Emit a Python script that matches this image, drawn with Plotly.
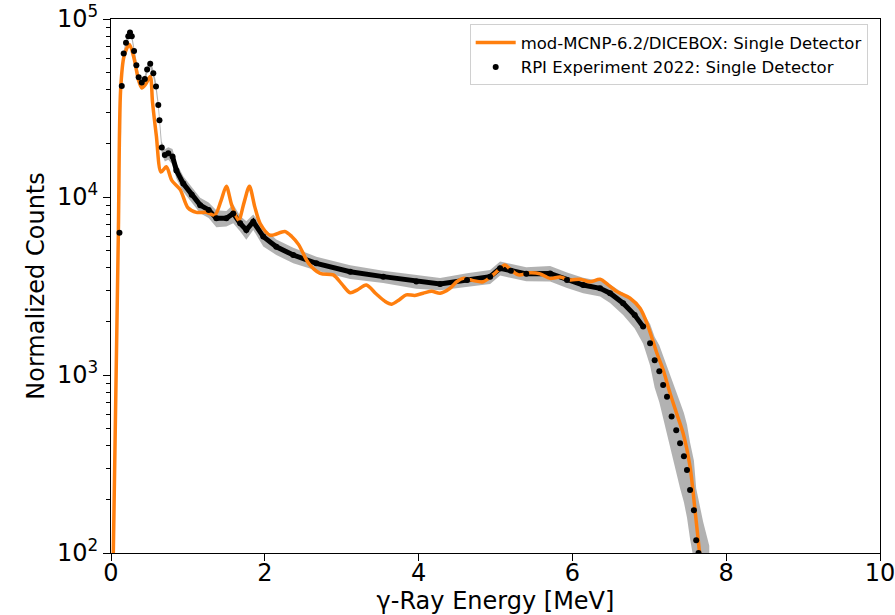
import plotly.graph_objects as go

# --- simulation (mod-MCNP-6.2/DICEBOX) ---
sim_E = [0.03, 0.095, 0.125, 0.17, 0.24, 0.30, 0.36, 0.40, 0.45, 0.51, 0.54, 0.59, 0.65,
         0.72, 0.79, 0.90, 1.00, 1.11, 1.24, 1.35, 1.43, 1.50, 1.57, 1.66, 1.73, 1.80, 1.87,
         1.94, 2.07, 2.26, 2.35, 2.44, 2.57, 2.72, 2.89, 3.00, 3.11, 3.20, 3.32, 3.45, 3.56,
         3.65, 3.75, 3.84, 3.95, 4.06, 4.17, 4.28, 4.40, 4.50, 4.58, 4.70, 4.84, 4.95, 5.04,
         5.12, 5.20, 5.30, 5.45, 5.58, 5.71, 5.84, 5.97, 6.10, 6.23, 6.36, 6.47, 6.58, 6.75,
         6.88, 6.97, 7.05, 7.10, 7.18, 7.27, 7.36, 7.44, 7.53, 7.59, 7.65, 7.67]
sim_val = [100, 6000, 40000, 62000, 72000, 60000, 45000, 41000, 43000, 47500, 34000, 22000, 13800,
           14800, 12400, 11000, 8700, 8200, 8200, 7900, 9500, 11500, 9000, 7400, 9300, 11500, 8800,
           7100, 6100, 6400, 6000, 5400, 4240, 3720, 3650, 3250, 2900, 3000, 3200, 2850, 2600,
           2500, 2650, 2820, 2800, 2880, 2950, 2880, 3050, 3350, 3490, 3400, 3340, 3600, 3890,
           4150, 3900, 3650, 3750, 3700, 3490, 3550, 3420, 3450, 3340, 3450, 3200, 2940, 2700,
           2370, 1950, 1540, 1320, 1070, 790, 600, 470, 305, 182, 104, 90]

# --- experiment (RPI 2022) ---
exp_E = [0.11, 0.14, 0.165, 0.195, 0.225, 0.247, 0.27, 0.30, 0.33, 0.36, 0.40, 0.44, 0.47,
         0.51, 0.55, 0.585, 0.615, 0.63, 0.66, 0.70, 0.745, 0.80, 0.85, 0.94, 1.05, 1.16, 1.27,
         1.37, 1.50, 1.59, 1.68, 1.76, 1.85, 1.98, 2.15, 2.37, 2.67, 3.11, 3.54, 3.97, 4.28,
         4.63, 4.93, 5.06, 5.20, 5.40, 5.71, 5.93, 6.14, 6.36, 6.49, 6.66, 6.81, 6.92, 7.01,
         7.07, 7.13, 7.18, 7.23, 7.29, 7.35, 7.40, 7.45, 7.49, 7.53, 7.58, 7.61, 7.64, 7.70, 7.78]
exp_val = [6300, 42000, 64000, 73600, 80000, 84000, 80000, 66000, 55000, 47000, 44000, 46000, 52000,
           56000, 49600, 41800, 32900, 27000, 19000, 17200, 17600, 16900, 14100, 11900, 10300, 9000, 8460,
           7590, 7590, 8090, 7110, 6530, 7260, 5990, 5250, 4720, 4240, 3800, 3570, 3350, 3250,
           3420, 3570, 3980, 3850, 3700, 3720, 3420, 3200, 3070, 2880, 2530, 2170, 1870, 1510,
           1210, 1050, 880, 755, 584, 490, 413, 350, 293, 226, 174, 118, 100, 75, 55]
# relative uncertainty band (upper / lower)
err_up = [0.04, 0.04, 0.04, 0.04, 0.04, 0.04, 0.04, 0.05, 0.05, 0.05, 0.05, 0.05, 0.05,
          0.05, 0.05, 0.06, 0.06, 0.07, 0.08, 0.08, 0.08, 0.10, 0.10, 0.10, 0.10, 0.10, 0.10,
          0.11, 0.10, 0.12, 0.10, 0.12, 0.10, 0.12, 0.10, 0.10, 0.09, 0.09, 0.08, 0.09, 0.08,
          0.09, 0.09, 0.09, 0.09, 0.09, 0.10, 0.10, 0.10, 0.10, 0.12, 0.14, 0.16, 0.20, 0.28,
          0.35, 0.40, 0.45, 0.50, 0.60, 0.65, 0.70, 0.75, 0.80, 0.85, 0.90, 0.95, 1.0, 1.0, 1.0]
err_dn = [0.04, 0.04, 0.04, 0.04, 0.04, 0.04, 0.04, 0.05, 0.05, 0.05, 0.05, 0.05, 0.05,
          0.05, 0.05, 0.06, 0.06, 0.07, 0.08, 0.08, 0.08, 0.10, 0.10, 0.10, 0.10, 0.10, 0.10,
          0.11, 0.10, 0.12, 0.10, 0.12, 0.10, 0.12, 0.10, 0.10, 0.09, 0.09, 0.08, 0.09, 0.08,
          0.09, 0.09, 0.09, 0.09, 0.09, 0.10, 0.10, 0.10, 0.10, 0.12, 0.14, 0.16, 0.20, 0.25,
          0.30, 0.33, 0.35, 0.38, 0.40, 0.42, 0.44, 0.45, 0.46, 0.47, 0.48, 0.48, 0.48, 0.48, 0.48]

x_ticks = [0, 2, 4, 6, 8, 10]
y_ticks = [100, 1000, 10000, 100000]
y_ticktext = ["10<sup>2</sup>", "10<sup>3</sup>", "10<sup>4</sup>", "10<sup>5</sup>"]
sim_name = "mod-MCNP-6.2/DICEBOX: Single Detector"
exp_name = "RPI Experiment 2022: Single Detector"

upper = [v * (1 + u) for v, u in zip(exp_val, err_up)]
lower = [v * (1 - d) for v, d in zip(exp_val, err_dn)]

fig = go.Figure()
fig.add_trace(go.Scatter(x=exp_E, y=upper, mode="lines", line=dict(width=0, color="#b0b0b0"),
                         showlegend=False, hoverinfo="skip"))
fig.add_trace(go.Scatter(x=exp_E, y=lower, mode="lines", line=dict(width=0, color="#b0b0b0"),
                         fill="tonexty", fillcolor="rgba(170,170,170,0.9)",
                         showlegend=False, hoverinfo="skip"))
# dense experimental points appear as a thick dotted line in the flat region
mid = [i for i, e in enumerate(exp_E) if 0.8 <= e <= 6.95]
fig.add_trace(go.Scatter(x=[exp_E[i] for i in mid], y=[exp_val[i] for i in mid], mode="lines",
                         line=dict(color="black", width=5), showlegend=False, hoverinfo="skip"))
fig.add_trace(go.Scatter(x=sim_E, y=sim_val, mode="lines", name=sim_name,
                         line=dict(color="#ff7f0e", width=3.5, shape="spline", smoothing=0.8)))
fig.add_trace(go.Scatter(x=exp_E, y=exp_val, mode="markers", name=exp_name,
                         marker=dict(color="black", size=6)))

FS = 24
axis_common = dict(showline=True, linecolor="black", linewidth=1, mirror=True,
                   ticks="outside", ticklen=7, tickcolor="black", showgrid=False, zeroline=False,
                   tickfont=dict(size=FS, color="black"), automargin=False,
                   ticklabeloverflow="allow")
fig.update_xaxes(range=[0, 10], tickvals=x_ticks, ticklabelstandoff=-9,
                 title=dict(text="γ-Ray Energy [MeV]", font=dict(size=FS, color="black"), standoff=2),
                 **axis_common)
fig.update_yaxes(type="log", range=[2, 5], tickvals=y_ticks, ticktext=y_ticktext,
                 title=dict(text="Normalized Counts", font=dict(size=FS, color="black"), standoff=5),
                 minor=dict(ticks="outside", ticklen=4, tickcolor="black", showgrid=False,
                            tickvals=[200, 300, 400, 500, 600, 700, 800, 900,
                                      2000, 3000, 4000, 5000, 6000, 7000, 8000, 9000,
                                      20000, 30000, 40000, 50000, 60000, 70000, 80000, 90000]),
                 **axis_common)
fig.update_layout(
    width=895, height=615,
    margin=dict(l=111, r=15, t=19, b=62),
    paper_bgcolor="white", plot_bgcolor="white",
    font=dict(family="DejaVu Sans", color="black"),
    legend=dict(x=0.984, y=0.99, xanchor="right", yanchor="top", traceorder="normal",
                bgcolor="white", bordercolor="#d0d0d0", borderwidth=1, itemwidth=40,
                font=dict(size=16.5, color="black"), tracegroupgap=0),
)
fig.write_html("out.html")
